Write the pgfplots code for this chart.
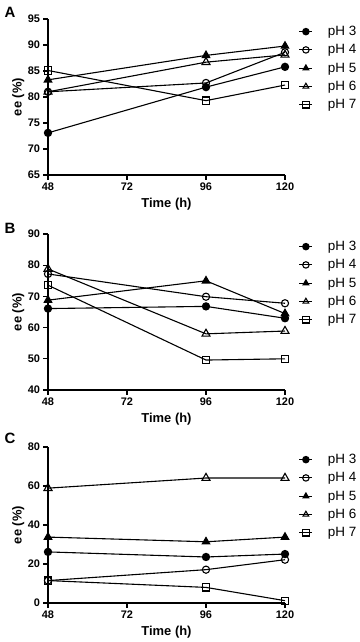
\documentclass[border=0pt]{standalone}
\usepackage{fontspec}
\setmainfont{Liberation Sans}
\usepackage{pgfplots}
\pgfplotsset{compat=1.18}
\pgfplotsset{
 panel/.style={
  scale only axis, width=237bp, height=156bp,
  axis x line*=bottom, axis y line*=left, axis line style={-, line width=1.1bp},
  tick align=outside, major tick length=4.5bp, tick style={line width=1.1bp, black},
  xmin=48, xmax=120, xtick={48,72,96,120},
  /pgf/number format/assume math mode=true,
  ticklabel style={font=\bfseries\fontsize{11}{13}\selectfont},
  xlabel={Time (h)}, ylabel={ee (\%)},
  label style={font=\bfseries\fontsize{13}{15}\selectfont},
  xlabel style={at={(axis description cs:0.5,-0.185)}, anchor=center},
  ylabel style={at={(axis description cs:-0.125,0.5)}, anchor=center},
  legend style={at={(rel axis cs:1.045,1.0)}, anchor=north west, yshift=-3bp, draw=none, fill=none,
    font=\fontsize{13.5}{15}\selectfont, row sep=3.5bp, column sep=13bp},
  legend image code/.code={%
    \draw[mark repeat=2,mark phase=2,mark size=3.2bp] plot coordinates {(0bp,0bp) (6.5bp,0bp) (13bp,0bp)};},
  legend cell align=left,
  every axis plot/.append style={black, line width=1.1bp, mark size=3.6bp},
  clip=false,
 },
 s3/.style={mark=*, mark options={solid, fill=black}},
 s4/.style={mark=o, mark options={solid, fill=white}},
 s5/.style={mark=triangle*, mark size=4.3bp, mark options={solid, fill=black}},
 s6/.style={mark=triangle, mark size=4.6bp, mark options={solid, fill=white}},
 s7/.style={mark=square, mark options={solid, fill=white}},
}
\begin{document}
\begin{tikzpicture}
\useasboundingbox (-48bp,-467bp) rectangle (312bp,175bp);
% Panel A
\begin{axis}[panel, at={(0,0)}, ymin=65, ymax=95, ytick={65,70,...,95}]
\addplot[s3] coordinates {(48,73.1) (96,81.9) (120,85.8)};
\addplot[s4] coordinates {(48,81.0) (96,82.7) (120,88.6)};
\addplot[s5] coordinates {(48,83.3) (96,88.0) (120,89.8)};
\addplot[s6] coordinates {(48,81.0) (96,86.7) (120,88.1)};
\addplot[s7] coordinates {(48,85.1) (96,79.3) (120,82.3)};
\legend{pH 3, pH 4, pH 5, pH 6, pH 7}
\end{axis}
% Panel B
\begin{axis}[panel, at={(0,-215bp)}, ymin=40, ymax=90, ytick={40,50,...,90}]
\addplot[s3] coordinates {(48,66.1) (96,66.8) (120,63.0)};
\addplot[s4] coordinates {(48,77.2) (96,69.9) (120,67.8)};
\addplot[s5] coordinates {(48,68.8) (96,75.0) (120,64.5)};
\addplot[s6] coordinates {(48,78.8) (96,58.0) (120,58.9)};
\addplot[s7] coordinates {(48,73.6) (96,49.6) (120,50.0)};
\legend{pH 3, pH 4, pH 5, pH 6, pH 7}
\end{axis}
% Panel C
\begin{axis}[panel, at={(0,-428bp)}, ymin=0, ymax=80, ytick={0,20,...,80}]
\addplot[s3] coordinates {(48,26.2) (96,23.6) (120,25.1)};
\addplot[s4] coordinates {(48,11.5) (96,17.1) (120,22.2)};
\addplot[s5] coordinates {(48,33.8) (96,31.4) (120,33.8)};
\addplot[s6] coordinates {(48,58.9) (96,64.1) (120,64.1)};
\addplot[s7] coordinates {(48,11.5) (96,8.0) (120,1.2)};
\legend{pH 3, pH 4, pH 5, pH 6, pH 7}
\end{axis}
\node[font=\bfseries\fontsize{15}{17}\selectfont] at (-38bp,162.5bp) {A};
\node[font=\bfseries\fontsize{15}{17}\selectfont] at (-38bp,-53bp) {B};
\node[font=\bfseries\fontsize{15}{17}\selectfont] at (-38bp,-263bp) {C};
\end{tikzpicture}
\end{document}
